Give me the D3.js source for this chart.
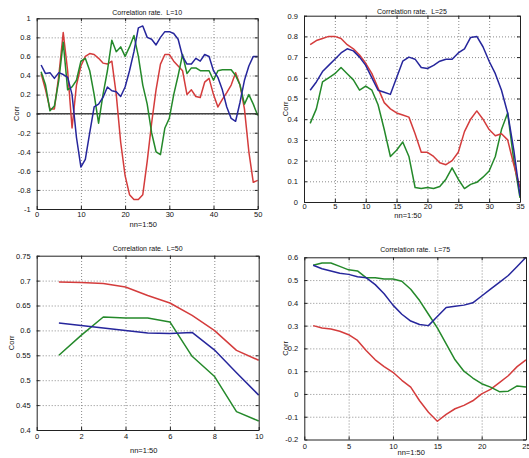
<!DOCTYPE html>
<html>
<head>
<meta charset="utf-8">
<script src="https://cdn.jsdelivr.net/npm/d3@7"></script>
<style>
body{margin:0;background:#fff}
text{font-family:"Liberation Sans",Arial,sans-serif}
</style>
</head>
<body>
<script>
// L=10, nn = 1..50
const l10Blue=[0.51,0.42,0.43,0.37,0.43,0.41,0.38,0.2,-0.25,-0.56,-0.48,-0.2,0.07,0.1,0.17,0.28,0.24,0.23,0.18,0.28,
  0.45,0.65,0.9,0.92,0.8,0.78,0.72,0.8,0.86,0.86,0.84,0.78,0.6,0.52,0.52,0.58,0.55,0.62,0.6,0.45,
  0.38,0.25,0.07,-0.05,-0.08,0.12,0.35,0.5,0.6,0.6]
const l10Red=[0.42,0.25,0.05,0.05,0.4,0.85,0.45,-0.15,0.3,0.5,0.6,0.63,0.62,0.58,0.53,0.52,0.55,0.2,-0.3,-0.65,
  -0.85,-0.9,-0.9,-0.85,-0.5,-0.1,0.25,0.52,0.62,0.62,0.55,0.5,0.45,0.2,0.25,0.18,0.17,0.33,0.37,0.2,
  0.07,0.15,0.22,0.3,0.43,0.3,0.05,-0.4,-0.72,-0.7]
const l10Green=[0.44,0.3,0.03,0.08,0.35,0.75,0.25,0.28,0.35,0.55,0.58,0.45,0.2,-0.1,0.2,0.45,0.77,0.65,0.7,0.6,
  0.7,0.82,0.6,0.3,0.1,-0.2,-0.4,-0.43,-0.15,-0.05,0.2,0.4,0.62,0.42,0.48,0.48,0.45,0.45,0.45,0.35,
  0.45,0.46,0.46,0.46,0.4,0.3,0.1,0.2,0.1,-0.02]

// L=25, nn = 1..35
const l25Blue=[0.54,0.58,0.63,0.66,0.69,0.72,0.74,0.73,0.7,0.66,0.6,0.54,0.53,0.52,0.6,0.68,0.7,0.69,0.65,0.645,
  0.66,0.68,0.69,0.69,0.72,0.74,0.795,0.8,0.75,0.68,0.62,0.54,0.43,0.25,0.03]
const l25Red=[0.76,0.78,0.79,0.8,0.8,0.79,0.76,0.74,0.71,0.67,0.62,0.55,0.48,0.45,0.43,0.42,0.41,0.33,0.24,0.24,
  0.22,0.19,0.18,0.2,0.24,0.34,0.4,0.44,0.4,0.35,0.32,0.33,0.3,0.18,0.07]
const l25Green=[0.38,0.45,0.58,0.6,0.62,0.65,0.62,0.59,0.54,0.56,0.54,0.47,0.35,0.22,0.25,0.29,0.22,0.07,0.065,0.07,
  0.065,0.075,0.11,0.165,0.11,0.065,0.085,0.095,0.12,0.15,0.22,0.35,0.43,0.2,0.02]

// L=50, nn = 1..10
const l50Blue=[0.615,0.61,0.605,0.6,0.595,0.594,0.596,0.561,0.515,0.47]
const l50Red=[0.697,0.696,0.694,0.687,0.67,0.655,0.63,0.6,0.56,0.54]
const l50Green=[0.55,0.59,0.627,0.625,0.625,0.617,0.548,0.508,0.437,0.418]

// L=75, nn = 1..25
const l75Blue=[0.565,0.55,0.54,0.53,0.525,0.515,0.51,0.48,0.44,0.39,0.35,0.32,0.305,0.3,0.34,0.38,0.385,0.39,0.4,0.43,
  0.46,0.49,0.52,0.56,0.6]
const l75Red=[0.3,0.29,0.285,0.275,0.26,0.235,0.19,0.15,0.12,0.095,0.06,0.03,-0.03,-0.08,-0.12,-0.09,-0.065,-0.05,-0.03,0,
  0.02,0.05,0.08,0.12,0.15]
const l75Green=[0.565,0.575,0.575,0.56,0.545,0.54,0.51,0.51,0.505,0.505,0.495,0.46,0.41,0.35,0.29,0.22,0.15,0.1,0.07,0.045,
  0.03,0.01,0.012,0.035,0.03]

const titles=['Correlation rate.  L=10','Correlation rate.  L=25','Correlation rate.  L=50','Correlation rate.  L=75']
const xTicks10=[0,10,20,30,40,50], yTicks10=[-1,-0.8,-0.6,-0.4,-0.2,0,0.2,0.4,0.6,0.8,1]
const xTicks25=[0,5,10,15,20,25,30,35], yTicks25=[0,0.1,0.2,0.3,0.4,0.5,0.6,0.7,0.8,0.9]
const xTicks50=[0,2,4,6,8,10], yTicks50=[0.4,0.45,0.5,0.55,0.6,0.65,0.7,0.75]
const xTicks75=[0,5,10,15,20,25], yTicks75=[-0.2,-0.1,0,0.1,0.2,0.3,0.4,0.5,0.6]

const colors={blue:'#26269c',red:'#d43c3c',green:'#24892a'}
const fmt=d=>String(+d.toFixed(2))

const svg=d3.select('body').append('svg').attr('width',529).attr('height',458)

function panel(p){
  const x=d3.scaleLinear().domain([p.xTicks[0],p.xTicks[p.xTicks.length-1]]).range([p.l,p.r])
  const y=d3.scaleLinear().domain([p.yTicks[0],p.yTicks[p.yTicks.length-1]]).range([p.b,p.t])
  const g=svg.append('g')

  // dotted grid
  g.append('g').attr('transform',`translate(0,${p.b})`)
   .call(d3.axisBottom(x).tickValues(p.xTicks.slice(1,-1)).tickSize(-(p.b-p.t)).tickFormat(''))
   .call(s=>s.select('.domain').remove())
   .selectAll('line').attr('stroke','#8a8a8a').attr('stroke-dasharray','1,2')
  g.append('g').attr('transform',`translate(${p.l},0)`)
   .call(d3.axisLeft(y).tickValues(p.yTicks.slice(1,-1)).tickSize(-(p.r-p.l)).tickFormat(''))
   .call(s=>s.select('.domain').remove())
   .selectAll('line').attr('stroke','#8a8a8a').attr('stroke-dasharray','1,2')

  if(p.zero){
    g.append('line').attr('x1',p.l).attr('x2',p.r).attr('y1',y(0)).attr('y2',y(0))
     .attr('stroke','#444').attr('stroke-width',1.5)
  }

  // series
  const line=d3.line().x((d,i)=>x(i+1)).y(d=>y(d))
  p.series.forEach(s=>{
    g.append('path').datum(s.v).attr('d',line).attr('fill','none')
     .attr('stroke',colors[s.c]).attr('stroke-width',1.5).attr('stroke-linejoin','round')
  })

  // box with inward ticks
  const ax=[
    [d3.axisBottom(x).tickValues(p.xTicks).tickSizeInner(-3).tickSizeOuter(0).tickPadding(p.xp).tickFormat(fmt),`translate(0,${p.b})`],
    [d3.axisTop(x).tickValues(p.xTicks).tickSizeInner(-3).tickSizeOuter(0).tickFormat(''),`translate(0,${p.t})`],
    [d3.axisLeft(y).tickValues(p.yTicks).tickSizeInner(-3).tickSizeOuter(0).tickPadding(6).tickFormat(fmt),`translate(${p.l},0)`],
    [d3.axisRight(y).tickValues(p.yTicks).tickSizeInner(-3).tickSizeOuter(0).tickFormat(''),`translate(${p.r},0)`]
  ]
  ax.forEach(([a,tr])=>{
    const ag=g.append('g').attr('transform',tr).call(a)
    ag.select('.domain').attr('stroke','#222')
    ag.selectAll('line').attr('stroke','#222')
    ag.selectAll('text').attr('font-size',7.5).attr('fill','#111')
      .attr('font-family','"Liberation Sans",Arial,sans-serif').text(function(){return this.textContent.replace('−','-')})
  })

  g.append('text').attr('x',(p.l+p.r)/2).attr('y',p.tt).attr('text-anchor','middle')
   .attr('font-size',7).attr('fill','#111').style('white-space','pre').text(p.title)
  g.append('text').attr('x',(p.l+p.r)/2-4).attr('y',p.xl).attr('text-anchor','middle')
   .attr('font-size',7.5).attr('fill','#111').text('nn=1:50')
  g.append('text').attr('transform',`translate(${p.yl},${(p.t+p.b)/2}) rotate(-90)`).attr('text-anchor','middle')
   .attr('font-size',7.5).attr('fill','#111').text('Corr')
}

panel({l:36.7,r:257.7,t:18.3,b:209,yl:19,xp:2.5,tt:14.5,xl:226.5,zero:true,title:titles[0],xTicks:xTicks10,yTicks:yTicks10,
  series:[{v:l10Red,c:'red'},{v:l10Green,c:'green'},{v:l10Blue,c:'blue'}]})
panel({l:304,r:520,t:15.7,b:202,yl:288,xp:1.5,tt:13.5,xl:217.5,title:titles[1],xTicks:xTicks25,yTicks:yTicks25,
  series:[{v:l25Green,c:'green'},{v:l25Red,c:'red'},{v:l25Blue,c:'blue'}]})
panel({l:36.7,r:258.7,t:255.7,b:430,yl:14,xp:3.5,tt:250.5,xl:453,title:titles[2],xTicks:xTicks50,yTicks:yTicks50,
  series:[{v:l50Red,c:'red'},{v:l50Green,c:'green'},{v:l50Blue,c:'blue'}]})
panel({l:304.3,r:526,t:257.3,b:439.5,yl:288,xp:4,tt:251.5,xl:455,title:titles[3],xTicks:xTicks75,yTicks:yTicks75,
  series:[{v:l75Red,c:'red'},{v:l75Green,c:'green'},{v:l75Blue,c:'blue'}]})
</script>
</body>
</html>
